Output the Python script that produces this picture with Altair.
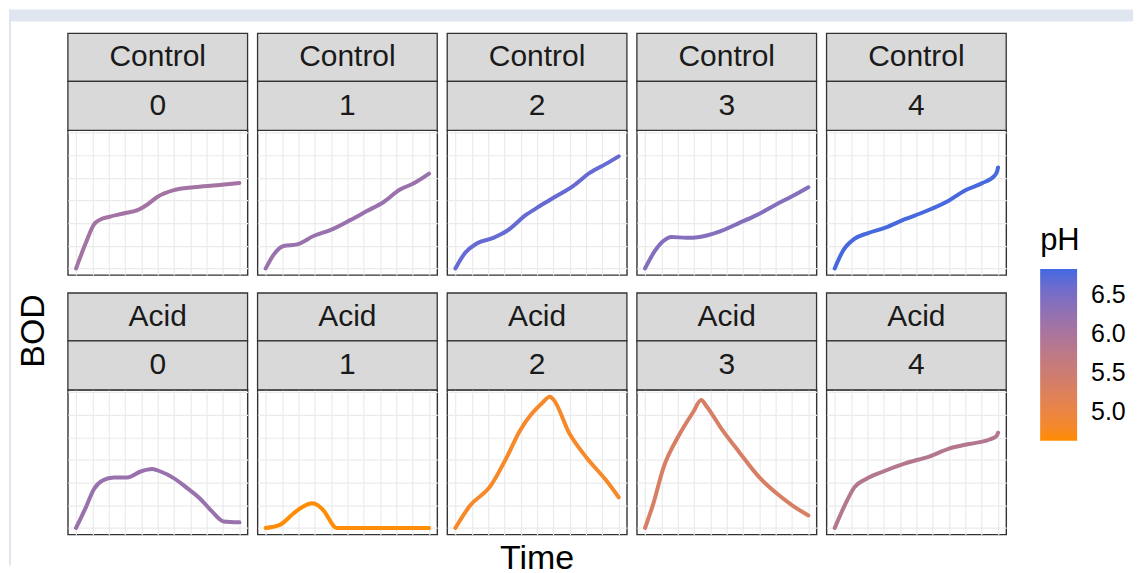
import altair as alt
import pandas as pd

FONT = "Liberation Sans, Arial, Helvetica, sans-serif"
BG = "#dfe6ef"

treatments = ["Control", "Acid"]
days = [0, 1, 2, 3, 4]

# pH per panel (Control 0..4, Acid 0..4)
ph_control = [6.08, 6.2, 6.65, 6.4, 6.8]
ph_acid = [6.2, 4.65, 4.8, 5.35, 5.86]

# Control series
c0_time = [0, 0.6, 1.1, 1.5, 2.0, 2.9, 3.85, 4.37, 4.97, 5.98, 7.2, 8.63, 10]
c0_bod = [0, 1.13, 1.94, 2.16, 2.27, 2.42, 2.6, 2.82, 3.15, 3.45, 3.58, 3.67, 3.77]
c1_time = [0, 0.5, 1.1, 1.92, 2.93, 3.95, 5.17, 6.19, 7.2, 8.22, 9.03, 10]
c1_bod = [0, 0.62, 0.99, 1.06, 1.43, 1.69, 2.13, 2.53, 2.92, 3.48, 3.74, 4.18]
c2_time = [0, 0.6, 1.31, 2.32, 3.14, 4.36, 5.17, 6.19, 7.2, 8.22, 9.24, 10]
c2_bod = [0, 0.69, 1.1, 1.35, 1.65, 2.38, 2.75, 3.19, 3.63, 4.21, 4.62, 4.94]
c3_time = [0, 0.6, 1.1, 1.62, 2.53, 3.34, 4.46, 5.78, 6.8, 8.02, 9.03, 10]
c3_bod = [0, 0.77, 1.2, 1.39, 1.35, 1.39, 1.6, 2.01, 2.34, 2.82, 3.19, 3.58]
c4_time = [0, 0.5, 1.2, 2.0, 3.1, 4.3, 5.5, 7.0, 8.0, 9.0, 9.8, 9.95, 10]
c4_bod = [0, 0.77, 1.3, 1.55, 1.8, 2.17, 2.5, 3.0, 3.45, 3.75, 4.1, 4.3, 4.45]

# Acid series
a0_time = [0, 0.6, 1.1, 1.62, 2.32, 3.14, 3.95, 4.66, 5.17, 5.98, 6.8, 7.61, 8.32, 9.03, 10]
a0_bod = [0, 0.91, 1.72, 2.09, 2.23, 2.23, 2.49, 2.6, 2.49, 2.2, 1.76, 1.28, 0.73, 0.29, 0.25]
a1_time = [0, 0.9, 1.71, 2.3, 2.84, 3.2, 3.54, 4.36, 10]
a1_bod = [0, 0.15, 0.65, 0.95, 1.09, 1.0, 0.77, 0, 0]
a2_time = [0, 0.9, 2.12, 3.14, 3.95, 4.66, 5.3, 5.78, 5.98, 7.0, 8.02, 9.24, 10]
a2_bod = [0, 0.99, 1.82, 3.11, 4.29, 5.02, 5.5, 5.78, 5.68, 4.14, 3.11, 2.09, 1.35]
a3_time = [0, 0.5, 1.1, 2.12, 2.93, 3.44, 3.75, 4.76, 5.78, 7.0, 8.22, 9.03, 10]
a3_bod = [0, 1.06, 2.6, 4.14, 5.09, 5.64, 5.38, 4.29, 3.33, 2.23, 1.43, 0.99, 0.55]
a4_time = [0, 0.7, 1.2, 1.92, 2.93, 4.36, 5.78, 7.0, 8.22, 9.44, 9.9, 10]
a4_bod = [0, 1.13, 1.79, 2.16, 2.48, 2.86, 3.15, 3.5, 3.7, 3.89, 4.05, 4.2]

x_grid = [0, 1, 2, 3, 4, 5, 6, 7, 8, 9, 10]
y_grid = [0, 1, 2, 3, 4, 5, 6]
legend_values = [5.0, 5.5, 6.0, 6.5]

series = {
    ("Control", 0): (c0_time, c0_bod, ph_control[0]),
    ("Control", 1): (c1_time, c1_bod, ph_control[1]),
    ("Control", 2): (c2_time, c2_bod, ph_control[2]),
    ("Control", 3): (c3_time, c3_bod, ph_control[3]),
    ("Control", 4): (c4_time, c4_bod, ph_control[4]),
    ("Acid", 0): (a0_time, a0_bod, ph_acid[0]),
    ("Acid", 1): (a1_time, a1_bod, ph_acid[1]),
    ("Acid", 2): (a2_time, a2_bod, ph_acid[2]),
    ("Acid", 3): (a3_time, a3_bod, ph_acid[3]),
    ("Acid", 4): (a4_time, a4_bod, ph_acid[4]),
}

rows = []
for (trt, day), (ts, bs, ph) in series.items():
    for t, b in zip(ts, bs):
        rows.append({"kind": "line", "Trt": trt, "Day": day, "Time": t, "BOD": b, "pH": ph})
    rows.append({"kind": "strip", "Trt": trt, "Day": day, "Time": None, "BOD": None, "pH": None})
rows.append({"kind": "bg", "Trt": "Control", "Day": 0, "Time": None, "BOD": None, "pH": None})
df = pd.DataFrame(rows)

W, H = 180, 145
STRIP1 = (-97, -49)
STRIP2 = (-49, 0)

base = alt.Chart()
is_bg = alt.datum.kind == "bg"
is_strip = alt.datum.kind == "strip"

bg_top = base.mark_rect(color=BG).transform_filter(is_bg).encode(
    x=alt.value(-59), x2=alt.value(1067), y=alt.value(-121), y2=alt.value(-109))
bg_left = base.mark_rect(color=BG).transform_filter(is_bg).encode(
    x=alt.value(-59), x2=alt.value(-57), y=alt.value(-121), y2=alt.value(436))

y_title = base.mark_text(font=FONT, fontSize=34, color="black", angle=270,
                         align="center", baseline="middle").transform_filter(is_bg).encode(
    text=alt.value("BOD"), x=alt.value(-34), y=alt.value(201))
x_title = base.mark_text(font=FONT, fontSize=34, color="black",
                         align="center", baseline="middle").transform_filter(is_bg).encode(
    text=alt.value("Time"), x=alt.value(470), y=alt.value(429))

strip_a = base.mark_rect(fill="#d9d9d9", stroke="#333333", strokeWidth=1.3).transform_filter(
    is_strip).encode(
    x=alt.value(0), x2=alt.value(W), y=alt.value(STRIP1[0]), y2=alt.value(STRIP1[1]))
strip_b = base.mark_rect(fill="#d9d9d9", stroke="#333333", strokeWidth=1.3).transform_filter(
    is_strip).encode(
    x=alt.value(0), x2=alt.value(W), y=alt.value(STRIP2[0]), y2=alt.value(STRIP2[1]))
strip_txt_a = base.mark_text(font=FONT, fontSize=30, color="#1a1a1a", baseline="middle").transform_filter(
    is_strip).encode(
    text="Trt:N", x=alt.value(W / 2), y=alt.value((STRIP1[0] + STRIP1[1]) / 2))
strip_txt_b = base.mark_text(font=FONT, fontSize=30, color="#1a1a1a", baseline="middle").transform_filter(
    is_strip).encode(
    text="Day:N", x=alt.value(W / 2), y=alt.value((STRIP2[0] + STRIP2[1]) / 2))

line = base.mark_line(strokeWidth=4, strokeCap="round", strokeJoin="round",
                      interpolate="monotone").transform_filter(
    alt.datum.kind == "line").encode(
    x=alt.X("Time:Q", scale=alt.Scale(domain=[-0.5, 10.5], nice=False, zero=False),
            axis=alt.Axis(values=x_grid, grid=True, labels=False, ticks=False, domain=False, title=None,
                          gridColor="#ebebeb", gridWidth=1.2)),
    y=alt.Y("BOD:Q", scale=alt.Scale(domain=[-0.29, 6.09], nice=False, zero=False),
            axis=alt.Axis(values=y_grid, grid=True, labels=False, ticks=False, domain=False, title=None,
                          gridColor="#ebebeb", gridWidth=1.2)),
    color=alt.Color("pH:Q",
                    scale=alt.Scale(domain=[4.64, 6.83], range=["#ff8c00", "#4169e1"],
                                    interpolate="lab", nice=False, zero=False),
                    legend=alt.Legend(title="pH", orient="none", legendX=974, legendY=96,
                                      gradientLength=172, gradientThickness=37,
                                      values=legend_values, format=".1f",
                                      labelFont=FONT, labelFontSize=25, labelColor="black", labelOffset=14,
                                      titleFont=FONT, titleFontSize=31, titleColor="black",
                                      titleFontWeight="normal", titlePadding=12,
                                      gradientStrokeWidth=0)),
)

layered = alt.layer(bg_top, bg_left, y_title, x_title, strip_a, strip_b, strip_txt_a, strip_txt_b,
                    line).properties(width=W, height=H)

chart = layered.facet(
    data=df,
    row=alt.Row("Trt:N", sort=treatments, header=None),
    column=alt.Column("Day:O", sort=days, header=None),
    spacing={"row": 115, "column": 10},
    bounds="flush",
).properties(padding=0, background="white").configure_view(stroke="#333333", strokeWidth=1.4)

chart.save("out.html", embed_options={"renderer": "svg", "actions": False})
